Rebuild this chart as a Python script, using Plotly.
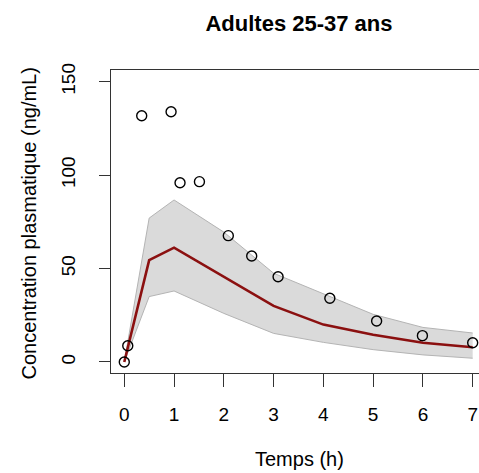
import plotly.graph_objects as go

# Observed concentrations
obs_time = [0.0, 0.07, 0.35, 0.94, 1.12, 1.51, 2.09, 2.56, 3.09, 4.13, 5.07, 5.99, 7.0]
obs_conc = [0.0, 8.7, 131.8, 133.9, 95.9, 96.5, 67.6, 56.7, 45.6, 34.1, 21.9, 14.1, 10.3]

# Prediction band (time grid, lower, median, upper)
pred_time = [0, 0.5, 1, 2, 3, 4, 5, 6, 7]
pred_low = [0, 35.0, 38.0, 26.0, 15.3, 10.5, 6.6, 3.8, 2.0]
pred_med = [0, 54.5, 61.2, 45.5, 30.0, 20.0, 14.6, 10.3, 7.9]
pred_up = [0, 77.0, 86.7, 69.5, 47.5, 36.5, 25.5, 18.5, 15.5]

x_ticks = [0, 1, 2, 3, 4, 5, 6, 7]
y_ticks = [0, 50, 100, 150]

FONT = "Liberation Sans, Arial, Helvetica, sans-serif"
W, H = 479, 473
L, T, B, R = 111, 70, 100, 0

fig = go.Figure()
fig.add_trace(go.Scatter(x=pred_time, y=pred_up, mode="lines",
                         line=dict(color="#b4b4b4", width=1), showlegend=False,
                         hoverinfo="skip"))
fig.add_trace(go.Scatter(x=pred_time, y=pred_low, mode="lines",
                         line=dict(color="#b4b4b4", width=1), fill="tonexty",
                         fillcolor="#dadada", showlegend=False, hoverinfo="skip"))
fig.add_trace(go.Scatter(x=pred_time, y=pred_med, mode="lines",
                         line=dict(color="#8b1010", width=2.6), showlegend=False))
fig.add_trace(go.Scatter(x=obs_time, y=obs_conc, mode="markers",
                         marker=dict(symbol="circle-open", size=10, color="black",
                                     line=dict(width=1.4, color="black")),
                         showlegend=False, cliponaxis=False))

fig.update_layout(
    width=W, height=H,
    margin=dict(l=L, r=R, t=T, b=B, autoexpand=False),
    plot_bgcolor="white", paper_bgcolor="white",
    font=dict(family=FONT, color="black"),
    title=dict(text="<b>Adultes 25-37 ans</b>", x=299 / W, xanchor="center",
               y=1 - 23 / H, yanchor="middle", font=dict(size=22, family=FONT)),
    xaxis=dict(range=[-0.267, 7.127], tickmode="array", tickvals=x_ticks,
               ticktext=[str(v) for v in x_ticks],
               ticks="outside", ticklen=13, tickwidth=1, tickcolor="#333",
               showline=True, linecolor="#333", linewidth=1, mirror=True,
               showgrid=False, zeroline=False,
               tickfont=dict(size=19), ticklabelstandoff=11),
    yaxis=dict(range=[-5.9, 156.26], tickmode="array", tickvals=y_ticks,
               ticktext=[str(v) for v in y_ticks],
               ticks="outside", ticklen=11, tickwidth=1, tickcolor="#333",
               showline=True, linecolor="#333", linewidth=1, mirror=False,
               showgrid=False, zeroline=False, tickangle=-90,
               tickfont=dict(size=19), ticklabelstandoff=16),
    annotations=[
        dict(text="Temps (h)", xref="paper", yref="paper",
             x=(299 - L) / (W - L - R), y=-(459 - (H - B)) / (H - T - B),
             xanchor="center", yanchor="middle", showarrow=False,
             font=dict(size=20, family=FONT)),
        dict(text="Concentration plasmatique (ng/mL)", xref="paper", yref="paper",
             x=-(L - 28) / (W - L - R), y=0.5 + (221.5 - 223.5) / (H - T - B),
             xanchor="center", yanchor="middle", showarrow=False, textangle=-90,
             font=dict(size=20, family=FONT)),
    ],
)

fig.write_html(
    "out.html",
    config={"displayModeBar": False},
    post_script="document.body.style.margin='0';document.body.style.overflow='hidden';",
)
